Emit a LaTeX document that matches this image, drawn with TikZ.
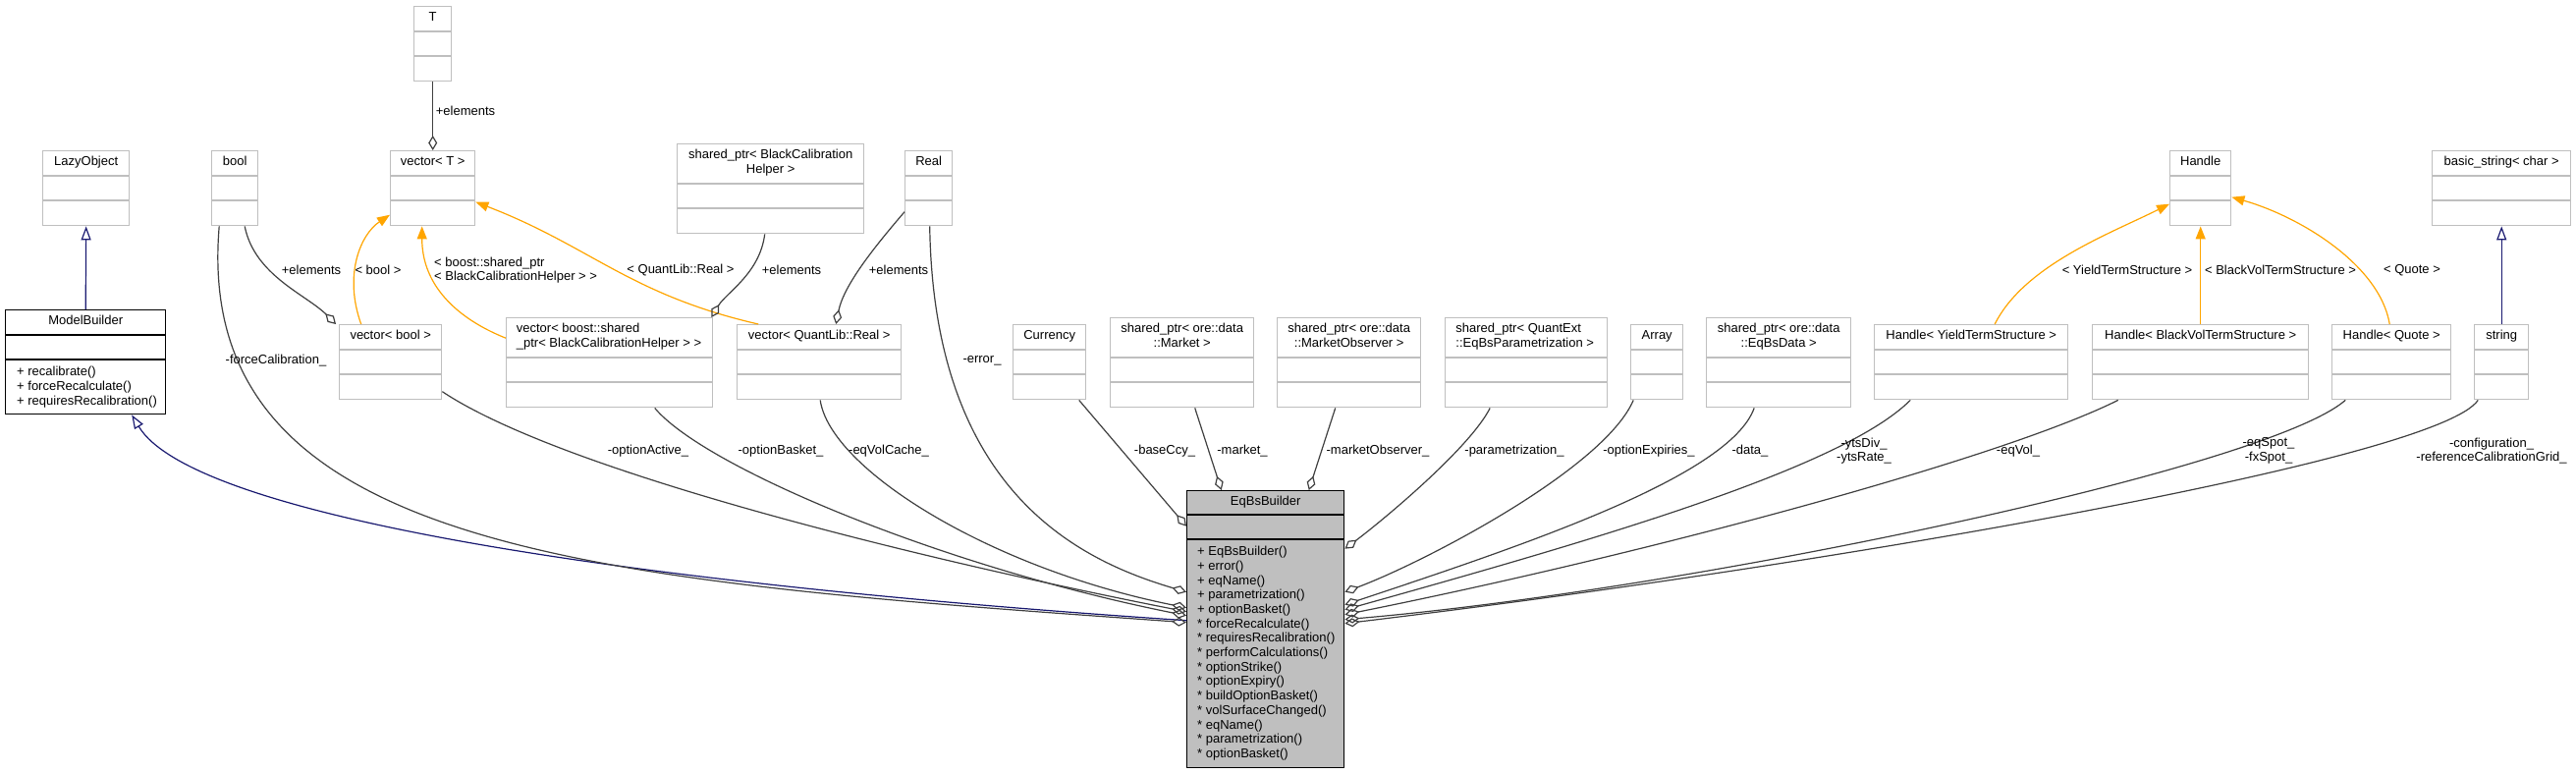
\documentclass[tikz,border=0pt]{standalone}
\usepackage{fontspec}
\setmainfont{Liberation Sans}
\usepackage{tikz}
\usetikzlibrary{arrows.meta, positioning, calc}
\definecolor{boxgray}{RGB}{191,191,191}
\definecolor{edgegray}{RGB}{64,64,64}
\definecolor{tmplorange}{RGB}{255,165,0}
\definecolor{inhnavy}{RGB}{25,25,112}
\definecolor{mainfill}{RGB}{191,191,191}
\newcommand{\dxfont}{\fontsize{13pt}{14.7pt}\selectfont}
\tikzset{
  umlbox/.style={rectangle, draw=boxgray, fill=white, line width=1.4pt, inner sep=0pt},
  umlsep/.style={draw=boxgray, line width=1.4pt},
  mainbox/.style={rectangle, draw=black, line width=1.4pt, inner sep=0pt},
  mainsep/.style={draw=black, line width=1.4pt},
  umltitle/.style={font=\dxfont, inner sep=0pt, align=center},
  umlops/.style={font=\dxfont, inner sep=0pt, align=left, anchor=north west},
  edgelabel/.style={font=\dxfont, inner sep=0pt, align=center},
  member/.style={draw=edgegray, line width=1.2pt, -{Diamond[open, length=15pt, width=9pt]}},
  tmplarrow/.style={color=tmplorange, line width=1.2pt, -{Triangle[length=13pt, width=10pt]}},
  inherit/.style={draw=inhnavy, line width=1.2pt, -{Triangle[open, length=14pt, width=10pt]}}
}
% class box: [title options]{name}{left}{top}{width}{head height}{title}
\newcommand{\umlclass}[7][]{%
  \node[umlbox, anchor=north west, minimum width=#5pt, minimum height={#6pt+50pt}] (#2) at (#3,#4) {};
  \draw[umlsep] ([yshift=-#6pt]#2.north west) -- ([yshift=-#6pt]#2.north east);
  \draw[umlsep] ([yshift=-#6pt-25pt]#2.north west) -- ([yshift=-#6pt-25pt]#2.north east);
  \node[umltitle, anchor=north, #1] (#2-title) at ([yshift=-6pt]#2.north) {#7};
}

\begin{document}
\begin{tikzpicture}[x=1pt, y=-1pt]
  \useasboundingbox (0,0) rectangle (2623,787);

  % ── Upper row of classes ───────────────────────────────────────────────────
  \umlclass{tparam}{421}{6}{38}{26}{T}
  \umlclass{lazy}{43}{153}{88}{26}{LazyObject}
  \umlclass{boolc}{215}{153}{47}{26}{bool}
  \umlclass{vect}{397}{153}{86}{26}{vector< T >}
  \umlclass{spbch}{689}{146}{190}{41}{shared\_ptr< BlackCalibration\\Helper >}
  \umlclass{real}{921}{153}{48}{26}{Real}
  \umlclass{handle}{2209}{153}{62}{26}{Handle}
  \umlclass{bstr}{2476}{153}{141}{26}{basic\_string< char >}

  % ── Middle row of classes ──────────────────────────────────────────────────
  \umlclass{vbool}{345}{330}{104}{26}{vector< bool >}
  \umlclass[align=left, anchor=north west, xshift=-95pt]{vbch}{515}{323}{210}{41}{vector< boost::shared\\\_ptr< BlackCalibrationHelper > >}
  \umlclass{vreal}{750}{330}{167}{26}{vector< QuantLib::Real >}
  \umlclass{ccy}{1031}{330}{74}{26}{Currency}
  \umlclass{spmkt}{1130}{323}{146}{41}{shared\_ptr< ore::data\\::Market >}
  \umlclass{spobs}{1300}{323}{146}{41}{shared\_ptr< ore::data\\::MarketObserver >}
  \umlclass[align=left, anchor=north west, xshift=-72pt]{sppar}{1471}{323}{165}{41}{shared\_ptr< QuantExt\\::EqBsParametrization >}
  \umlclass{arr}{1660}{330}{53}{26}{Array}
  \umlclass{spdata}{1737}{323}{147}{41}{shared\_ptr< ore::data\\::EqBsData >}
  \umlclass{hyts}{1908}{330}{197}{26}{Handle< YieldTermStructure >}
  \umlclass{hvol}{2130}{330}{220}{26}{Handle< BlackVolTermStructure >}
  \umlclass{hquote}{2374}{330}{121}{26}{Handle< Quote >}
  \umlclass{str}{2519}{330}{55}{26}{string}

  % ── ModelBuilder ───────────────────────────────────────────────────────────
  \node[mainbox, fill=white, anchor=north west, minimum width=163pt, minimum height=106pt] (modelb) at (5,315) {};
  \draw[mainsep] ([yshift=-26pt]modelb.north west) -- ([yshift=-26pt]modelb.north east);
  \draw[mainsep] ([yshift=-51pt]modelb.north west) -- ([yshift=-51pt]modelb.north east);
  \node[umltitle, anchor=north] (modelb-title) at ([yshift=-6pt]modelb.north) {ModelBuilder};
  \node[umlops] (modelb-ops) at ([xshift=12pt, yshift=-58pt]modelb.north west)
    {+ recalibrate()\\+ forceRecalculate()\\+ requiresRecalibration()};

  % ── EqBsBuilder ────────────────────────────────────────────────────────────
  \node[mainbox, fill=mainfill, anchor=north west, minimum width=160pt, minimum height=282pt] (eqbs) at (1208,499) {};
  \draw[mainsep] ([yshift=-25pt]eqbs.north west) -- ([yshift=-25pt]eqbs.north east);
  \draw[mainsep] ([yshift=-50pt]eqbs.north west) -- ([yshift=-50pt]eqbs.north east);
  \node[umltitle, anchor=north] (eqbs-title) at ([yshift=-6pt]eqbs.north) {EqBsBuilder};
  \node[umlops] (eqbs-ops) at ([xshift=11pt, yshift=-57pt]eqbs.north west)
    {+ EqBsBuilder()\\+ error()\\+ eqName()\\+ parametrization()\\+ optionBasket()\\
     * forceRecalculate()\\* requiresRecalibration()\\* performCalculations()\\
     * optionStrike()\\* optionExpiry()\\* buildOptionBasket()\\* volSurfaceChanged()\\
     * eqName()\\* parametrization()\\* optionBasket()};

  % ── Inheritance ────────────────────────────────────────────────────────────
  \draw[inherit] (modelb.north) -- (lazy.south);
  \draw[inherit] ([yshift=9pt]eqbs.west) .. controls +(-600,-40) and +(60,100) .. ([xshift=47pt]modelb.south);
  \draw[inherit] (str.north) -- (bstr.south);

  % ── Template instances ─────────────────────────────────────────────────────
  \draw[tmplarrow] ([xshift=-30pt]vbool.north) .. controls +(-18,-50) and +(-30,20) .. ([yshift=-27pt]vect.west);
  \draw[tmplarrow] ([yshift=25pt]vbch.west) .. controls +(-50,-20) and +(0,60) .. ([xshift=-11pt]vect.south);
  \draw[tmplarrow] ([xshift=-62pt]vreal.north) .. controls +(-131,-30) and +(117,45) .. ([yshift=-14pt]vect.east);
  \draw[tmplarrow] ([xshift=24pt]hyts.north) .. controls +(30,-60) and +(-60,30) .. ([yshift=-16pt]handle.west);
  \draw[tmplarrow] (hvol.north) -- (handle.south);
  \draw[tmplarrow] ([xshift=-2pt]hquote.north) .. controls +(-10,-60) and +(70,20) .. ([yshift=-9pt]handle.east);

  % ── Members ────────────────────────────────────────────────────────────────
  \draw[member] (tparam.south) -- (vect.north);
  \draw[member] ([xshift=10pt]boolc.south) .. controls +(10,50) and +(-30,-30) .. ([xshift=-3pt]vbool.north west);
  \draw[member] ([xshift=-6pt]spbch.south) .. controls +(-5,40) and +(15,-25) .. ([xshift=-2pt]vbch.north east);
  \draw[member] ([yshift=-24pt]real.west) .. controls +(-30,35) and +(8,-40) .. ([xshift=17pt]vreal.north);

  \draw[member] ([xshift=-16pt]boolc.south) .. controls +(-28,331) and +(-608,-43) .. ([yshift=7pt]eqbs.west);
  \draw[member] ([xshift=1pt]real.south) .. controls +(4,271) and +(-108,-32) .. ([yshift=38pt]eqbs.west);
  \draw[member] ([yshift=-30pt]vbool.east) .. controls +(120,80) and +(-280,-55) .. ([yshift=18pt]eqbs.west);
  \draw[member] ([xshift=46pt]vbch.south) .. controls +(50,60) and +(-250,-50) .. ([yshift=14pt]eqbs.west);
  \draw[member] ([xshift=1pt]vreal.south) .. controls +(10,70) and +(-200,-40) .. ([yshift=22pt]eqbs.west);
  \draw[member] ([xshift=30pt]ccy.south) -- ([yshift=105pt]eqbs.west);
  \draw[member] ([xshift=13pt]spmkt.south) -- ([xshift=-45pt]eqbs.north);
  \draw[member] ([xshift=-14pt]spobs.south) -- ([xshift=44pt]eqbs.north);
  \draw[member] ([xshift=-37pt]sppar.south) .. controls +(-20,40) and +(40,-30) .. ([yshift=82pt]eqbs.east);
  \draw[member] ([xshift=-24pt]arr.south) .. controls +(-30,70) and +(80,-30) .. ([yshift=38pt]eqbs.east);
  \draw[member] ([xshift=-25pt]spdata.south) .. controls +(-25,70) and +(180,-60) .. ([yshift=25pt]eqbs.east);
  \draw[member] ([xshift=-62pt]hyts.south) .. controls +(-70,70) and +(250,-70) .. ([yshift=20pt]eqbs.east);
  \draw[member] ([xshift=-84pt]hvol.south) .. controls +(-120,60) and +(300,-60) .. ([yshift=15pt]eqbs.east);
  \draw[member] ([xshift=-47pt]hquote.south) .. controls +(-80,70) and +(350,-30) .. ([yshift=10pt]eqbs.east);
  \draw[member] ([xshift=-24pt]str.south) .. controls +(-40,60) and +(500,-60) .. ([yshift=6pt]eqbs.east);

  % ── Edge labels ────────────────────────────────────────────────────────────
  \node[edgelabel] (l-telem) at (474,113) {+elements};
  \node[edgelabel] (l-force) at (281,367) {-forceCalibration\_};
  \node[edgelabel] (l-boolelem) at (317,275) {+elements};
  \node[edgelabel] (l-bool) at (385,275) {< bool >};
  \node[edgelabel, align=left, anchor=west] (l-bch) at (442,275) {< boost::shared\_ptr\\< BlackCalibrationHelper > >};
  \node[edgelabel] (l-qlreal) at (693,275) {< QuantLib::Real >};
  \node[edgelabel] (l-bchelem) at (806,275) {+elements};
  \node[edgelabel] (l-realelem) at (915,275) {+elements};
  \node[edgelabel] (l-error) at (1000,367) {-error\_};
  \node[edgelabel] (l-active) at (660,459) {-optionActive\_};
  \node[edgelabel] (l-basket) at (795,459) {-optionBasket\_};
  \node[edgelabel] (l-cache) at (905,459) {-eqVolCache\_};
  \node[edgelabel] (l-ccy) at (1186,459) {-baseCcy\_};
  \node[edgelabel] (l-market) at (1265,459) {-market\_};
  \node[edgelabel] (l-observer) at (1403,459) {-marketObserver\_};
  \node[edgelabel] (l-param) at (1542,459) {-parametrization\_};
  \node[edgelabel] (l-expiries) at (1679,459) {-optionExpiries\_};
  \node[edgelabel] (l-data) at (1782,459) {-data\_};
  \node[edgelabel] (l-yts) at (1898,459) {-ytsDiv\_\\-ytsRate\_};
  \node[edgelabel] (l-vol) at (2055,459) {-eqVol\_};
  \node[edgelabel] (l-spot) at (2310,459) {-eqSpot\_\\-fxSpot\_};
  \node[edgelabel] (l-config) at (2537,459) {-configuration\_\\-referenceCalibrationGrid\_};
  \node[edgelabel] (l-ytsarg) at (2166,275) {< YieldTermStructure >};
  \node[edgelabel] (l-volarg) at (2322,275) {< BlackVolTermStructure >};
  \node[edgelabel] (l-quotearg) at (2456,275) {< Quote >};
\end{tikzpicture}
\end{document}
